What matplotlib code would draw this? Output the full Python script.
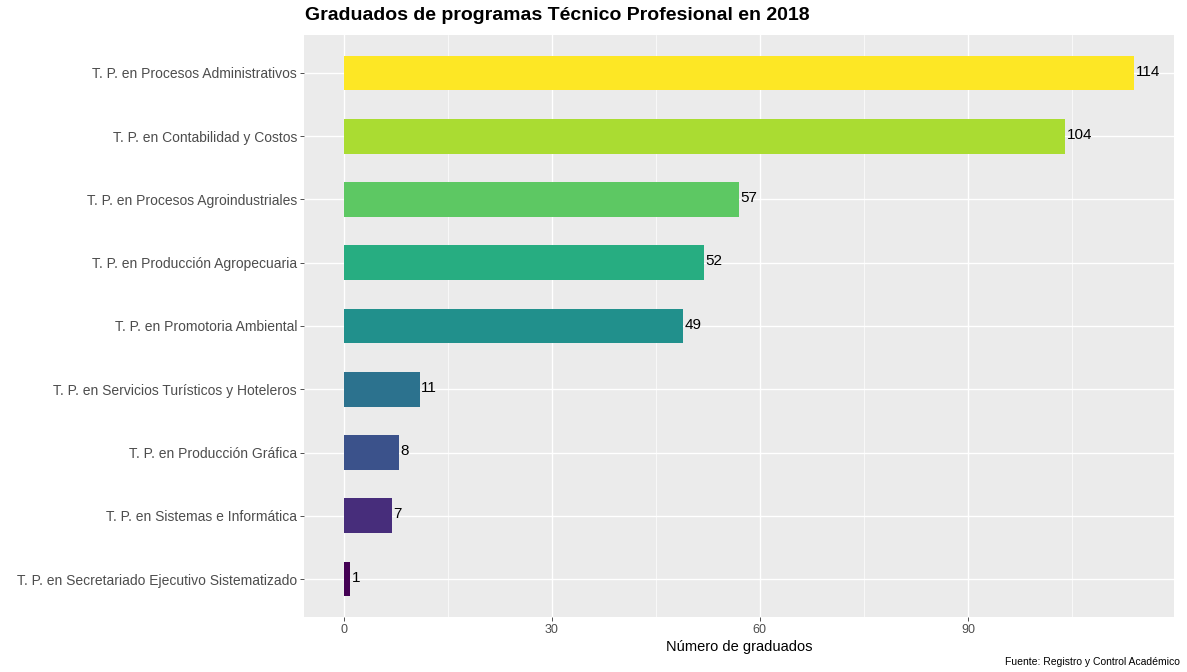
import numpy as np
import matplotlib.pyplot as plt

plt.rcParams['font.family'] = ['Liberation Sans', 'DejaVu Sans']

programas = [
    "T. P. en Secretariado Ejecutivo Sistematizado",
    "T. P. en Sistemas e Informática",
    "T. P. en Producción Gráfica",
    "T. P. en Servicios Turísticos y Hoteleros",
    "T. P. en Promotoria Ambiental",
    "T. P. en Producción Agropecuaria",
    "T. P. en Procesos Agroindustriales",
    "T. P. en Contabilidad y Costos",
    "T. P. en Procesos Administrativos",
]
graduados = [1, 7, 8, 11, 49, 52, 57, 104, 114]
colores = ["#440154", "#472D7B", "#3B528B", "#2C728E", "#21908C",
           "#27AD81", "#5DC863", "#AADC32", "#FDE725"]
xticks = [0, 30, 60, 90]

fig = plt.figure(figsize=(11.87, 6.72), dpi=100)
ax = fig.add_axes([304/1187, 1 - 617/672, (1174-304)/1187, (617-35)/672])
ax.set_facecolor("#EBEBEB")

y = np.arange(len(programas))
ax.barh(y, graduados, height=0.55, color=colores, zorder=3)
for yi, v in zip(y, graduados):
    ax.annotate(str(v), (v, yi), xytext=(1, 1), textcoords="offset points",
                va="center", ha="left", fontsize=11, color="black", zorder=4)

ax.set_xlim(-5.7, 119.7)
ax.set_ylim(-0.6, len(programas) - 0.4)
ax.set_yticks(y)
ax.set_yticklabels(programas, fontsize=10, color="#4D4D4D")
ax.set_xticks(xticks)
ax.set_xticklabels([str(t) for t in xticks], fontsize=9, color="#4D4D4D")
ax.set_xticks([15, 45, 75, 105], minor=True)
ax.grid(True, which="major", color="white", linewidth=1.0, zorder=0)
ax.grid(True, which="minor", axis="x", color="white", linewidth=0.5, zorder=0)
ax.tick_params(axis="both", which="major", color="#333333", length=3, width=0.6, pad=2)
ax.tick_params(axis="x", which="minor", length=0)
for s in ax.spines.values():
    s.set_visible(False)

ax.set_xlabel("Número de graduados", fontsize=10.5, labelpad=3)
fig.text(305/1187, 1 - 16/672, "Graduados de programas Técnico Profesional en 2018",
         fontsize=14, fontweight="bold", ha="left", va="center")
fig.text(1180/1187, 1 - 662/672, "Fuente: Registro y Control Académico",
         fontsize=7.5, ha="right", va="center")

fig.savefig("out.png", dpi=100)
